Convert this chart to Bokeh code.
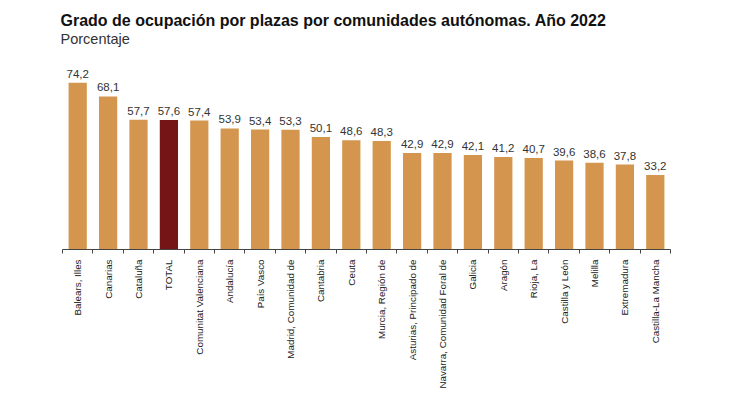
from bokeh.plotting import figure
from bokeh.models import FixedTicker, Title, ColumnDataSource, LabelSet, Range1d
from bokeh.embed import file_html
from bokeh.resources import INLINE
from bokeh.core.properties import value
import math

title_text = "Grado de ocupación por plazas por comunidades autónomas. Año 2022"
subtitle_text = "Porcentaje"

categories = ["Balears, Illes", "Canarias", "Cataluña", "TOTAL", "Comunitat Valenciana",
              "Andalucía", "País Vasco", "Madrid, Comunidad de", "Cantabria", "Ceuta",
              "Murcia, Región de", "Asturias, Principado de", "Navarra, Comunidad Foral de",
              "Galicia", "Aragón", "Rioja, La", "Castilla y León", "Melilla", "Extremadura",
              "Castilla-La Mancha"]
values = [74.2, 68.1, 57.7, 57.6, 57.4, 53.9, 53.4, 53.3, 50.1, 48.6, 48.3,
          42.9, 42.9, 42.1, 41.2, 40.7, 39.6, 38.6, 37.8, 33.2]

ORANGE = "#D4964F"
DARKRED = "#751516"

xs = list(range(len(categories)))
colors = [DARKRED if c == "TOTAL" else ORANGE for c in categories]
labels = [f"{v:.1f}".replace(".", ",") for v in values]

src = ColumnDataSource(dict(x=xs, top=values, color=colors, label=labels, cat=categories))

p = figure(width=716, height=395, output_backend="svg", toolbar_location=None,
           x_range=Range1d(-0.5, len(categories) - 0.5), y_range=Range1d(0, 85),
           min_border_left=62, min_border_right=46, min_border_top=58, min_border_bottom=146)

p.title.text = title_text
p.title.text_font = "Liberation Sans"
p.title.text_font_size = "16px"
p.title.text_font_style = "bold"
p.title.text_color = "#111111"
p.title.align = "left"
p.title.standoff = 0
p.title.offset = -2
# blank spacer between subtitle and plot area (nearest the frame)
p.add_layout(Title(text=" ", text_font_size="9px", standoff=0), "above")
p.add_layout(Title(text=subtitle_text, text_font="Liberation Sans", text_font_size="14.5px",
                   text_font_style="normal", text_color="#333333", align="left",
                   standoff=0, offset=-2), "above")

p.vbar(x="x", top="top", width=0.6, bottom=0, fill_color="color", line_color=None, source=src)

p.add_layout(LabelSet(x="x", y="top", text="label", source=src, text_align="center",
                      text_baseline="bottom", y_offset=5, text_font=value("Liberation Sans"),
                      text_font_size=value("11.5px"), text_color="#333333"))

p.xgrid.visible = False
p.ygrid.visible = False
p.yaxis.visible = False
p.outline_line_color = None

ax = p.xaxis[0]
ax.ticker = FixedTicker(ticks=xs, minor_ticks=[i - 0.5 for i in range(len(categories) + 1)])
ax.major_label_overrides = {i: c for i, c in enumerate(categories)}
ax.major_label_orientation = math.pi / 2
ax.major_tick_out = 0
ax.major_tick_in = 0
ax.minor_tick_out = 4
ax.minor_tick_in = 0
ax.minor_tick_line_color = "#444444"
ax.axis_line_color = "#444444"
ax.major_label_standoff = 6
ax.major_label_text_font = "Liberation Sans"
ax.major_label_text_font_size = "9.8px"
ax.major_label_text_color = "#222222"

open("out.html", "w").write(file_html(p, INLINE))
